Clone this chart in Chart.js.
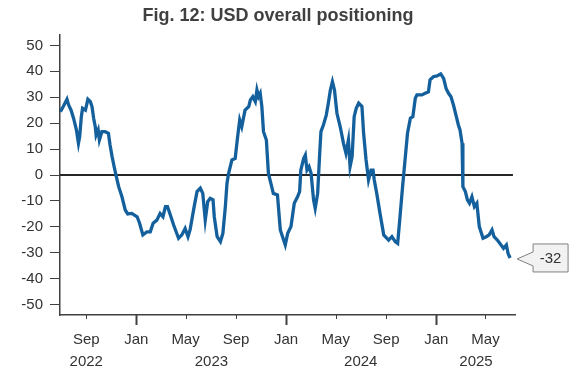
<!DOCTYPE html>
<html>
<head>
<meta charset="utf-8">
<script src="https://cdn.jsdelivr.net/npm/chart.js@4.4.1/dist/chart.umd.min.js"></script>
<style>
  body { margin: 0; background: #fff; }
  #wrap { width: 573px; height: 375px; position: relative; }
</style>
</head>
<body>
<div id="wrap"><canvas id="c" width="573" height="375"></canvas></div>
<script>
// USD overall positioning - line, dates are approximate
const dates = [
  '2022-06-30','2022-07-07','2022-07-16','2022-07-20','2022-07-26','2022-08-01','2022-08-08','2022-08-13',
  '2022-08-16','2022-08-20','2022-08-23','2022-08-30','2022-09-05','2022-09-11','2022-09-15','2022-09-19',
  '2022-09-23','2022-09-25','2022-09-30','2022-10-03','2022-10-09','2022-10-17','2022-10-25','2022-10-29',
  '2022-11-03','2022-11-08','2022-11-13','2022-11-19','2022-11-27','2022-12-05','2022-12-11','2022-12-21',
  '2023-01-03','2023-01-09','2023-01-17','2023-01-27','2023-02-04','2023-02-11','2023-02-20','2023-02-28',
  '2023-03-07','2023-03-13','2023-03-18','2023-03-25','2023-04-02','2023-04-14','2023-04-22','2023-04-30',
  '2023-05-07','2023-05-12','2023-05-22','2023-05-29','2023-06-06','2023-06-12','2023-06-18','2023-06-24',
  '2023-06-30','2023-07-07','2023-07-10','2023-07-17','2023-07-25','2023-07-31','2023-08-06','2023-08-10',
  '2023-08-14','2023-08-22','2023-08-30','2023-09-05','2023-09-10','2023-09-15','2023-09-23','2023-10-02',
  '2023-10-06','2023-10-12','2023-10-18','2023-10-22','2023-10-26','2023-10-30','2023-11-03','2023-11-07',
  '2023-11-14','2023-11-19','2023-11-25','2023-12-01','2023-12-11','2023-12-18','2023-12-26','2023-12-30',
  '2024-01-05','2024-01-13','2024-01-21','2024-01-29','2024-02-03','2024-02-06','2024-02-13','2024-02-17',
  '2024-02-21','2024-02-26','2024-03-02','2024-03-08','2024-03-12','2024-03-18','2024-03-23','2024-03-26',
  '2024-04-01','2024-04-08','2024-04-13','2024-04-18','2024-04-23','2024-04-28','2024-05-04','2024-05-12',
  '2024-05-20','2024-05-26','2024-06-01','2024-06-05','2024-06-10','2024-06-15','2024-06-20','2024-06-26',
  '2024-07-04','2024-07-08','2024-07-14','2024-07-20','2024-07-26','2024-07-31','2024-08-03','2024-08-09',
  '2024-08-17','2024-08-26','2024-09-07','2024-09-15','2024-09-23','2024-09-29','2024-10-04','2024-10-11',
  '2024-10-17','2024-10-23','2024-10-30','2024-11-05','2024-11-11','2024-11-15','2024-11-27','2024-12-05',
  '2024-12-13','2024-12-17','2024-12-25','2025-01-03','2025-01-12','2025-01-19','2025-01-25','2025-01-31',
  '2025-02-06','2025-02-12','2025-02-19','2025-02-24','2025-02-28','2025-03-05','2025-03-07','2025-03-13',
  '2025-03-18','2025-03-23','2025-03-29','2025-04-04','2025-04-10','2025-04-16','2025-04-25','2025-05-03',
  '2025-05-10','2025-05-17','2025-05-22','2025-05-30','2025-06-08','2025-06-14','2025-06-21','2025-06-25',
  '2025-06-30'
];
const values = [
  24.4, 26.4, 29.2, 27.0, 25.0, 21.9, 17.4, 12.2,
  14.8, 22.5, 25.7, 25.0, 29.2, 28.3, 26.4, 21.9,
  18.6, 15.4, 17.4, 13.5, 16.7, 16.7, 16.1, 11.6,
  7.1, 3.2, -0.4, -4.5, -8.4, -13.5, -15.0, -14.8,
  -16.1, -18.6, -23.1, -21.9, -21.9, -18.6, -17.4, -14.8,
  -16.1, -12.2, -12.2, -15.4, -19.3, -24.4, -23.1, -20.6,
  -23.8, -21.2, -12.2, -6.4, -5.1, -7.1, -17.4, -10.3,
  -9.0, -9.6, -16.1, -23.8, -25.7, -22.5, -12.2, -3.2,
  0.6, 5.8, 6.4, 14.8, 21.2, 18.6, 25.0, 26.4,
  28.9, 30.2, 28.3, 32.8, 30.2, 31.5, 26.4, 16.7,
  13.5, 0.6, -3.2, -7.1, -7.7, -21.2, -25.1, -27.0,
  -22.5, -19.9, -10.9, -8.4, -6.4, 1.9, 6.4, 7.7,
  1.9, 3.2, 0.6, -9.6, -12.9, -7.1, 8.4, 16.7,
  19.3, 23.1, 27.7, 32.8, 36.0, 32.8, 23.8, 18.6,
  12.2, 8.4, 13.5, 3.2, 7.1, 22.5, 25.7, 27.7,
  26.4, 16.1, 5.8, -1.9, 1.9, 1.9, -1.9, -7.1,
  -14.8, -23.1, -25.1, -23.8, -25.7, -26.4, -17.4, -4.5,
  5.8, 16.1, 21.9, 22.5, 29.6, 30.9, 30.9, 31.5,
  32.1, 36.7, 37.9, 38.2, 39.0, 37.3, 33.4, 31.5,
  30.2, 27.0, 22.5, 19.3, 17.4, 12.2, -4.5, -6.4,
  -9.6, -10.9, -8.4, -12.2, -10.9, -19.9, -24.4, -23.8,
  -23.1, -21.2, -23.8, -25.1, -27.0, -28.3, -27.0, -30.2,
  -32.0
];

const tickDates = ['2022-09-01','2023-01-01','2023-05-01','2023-09-01','2024-01-01','2024-05-01','2024-09-01','2025-01-01','2025-05-01'];
const tickMonths = ['Sep','Jan','May','Sep','Jan','May','Sep','Jan','May'];
const yearLabels = ['2022','2023','2024','2025'];
const yearDates = ['2022-09-01','2023-07-03','2024-07-01','2025-04-08'];
const yTicks = [-50,-40,-30,-20,-10,0,10,20,30,40,50];
const lastLabel = '-32';

const toDay = s => Date.parse(s + 'T00:00:00Z') / 86400000;
const FONT = '"Liberation Sans", Arial, sans-serif';
const LINE = '#14609d';
const INK = '#333333';

const decor = {
  id: 'decor',
  beforeDatasetsDraw(chart) {
    const { ctx, chartArea: a, scales: { x, y } } = chart;
    const y0 = y.getPixelForValue(0);
    ctx.save();
    ctx.strokeStyle = '#262626';
    ctx.lineWidth = 2;
    ctx.beginPath();
    ctx.moveTo(a.left, y0);
    ctx.lineTo(x.getPixelForValue(toDay('2025-07-07')), y0);
    ctx.stroke();
    ctx.restore();
  },
  afterDraw(chart) {
    const { ctx, chartArea: a, scales: { x, y } } = chart;
    ctx.save();
    // title
    ctx.fillStyle = '#404040';
    ctx.font = 'bold 18px ' + FONT;
    ctx.textAlign = 'center';
    ctx.textBaseline = 'alphabetic';
    ctx.fillText('Fig. 12: USD overall positioning', 278, 21);

    // x tick marks, Jan ones longer
    ctx.strokeStyle = '#404040';
    tickDates.forEach((d, i) => {
      const px = Math.round(x.getPixelForValue(toDay(d))) + 0.5;
      const major = tickMonths[i] === 'Jan';
      ctx.lineWidth = major ? 2 : 1;
      ctx.beginPath();
      ctx.moveTo(px, a.bottom);
      ctx.lineTo(px, a.bottom + (major ? 10 : 4));
      ctx.stroke();
    });

    // year labels
    ctx.fillStyle = INK;
    ctx.font = '15px ' + FONT;
    ctx.textBaseline = 'middle';
    yearLabels.forEach((t, i) => ctx.fillText(t, x.getPixelForValue(toDay(yearDates[i])), 362));

    // callout for last value
    const n = values.length - 1;
    const px = x.getPixelForValue(toDay(dates[n]));
    const py = y.getPixelForValue(values[n]);
    const bx = px + 23, bw = 35, bh = 28, top = py - 14;
    ctx.beginPath();
    ctx.moveTo(px + 7, py + 1);
    ctx.lineTo(bx, py - 6);
    ctx.lineTo(bx, top);
    ctx.lineTo(bx + bw, top);
    ctx.lineTo(bx + bw, top + bh);
    ctx.lineTo(bx, top + bh);
    ctx.lineTo(bx, py + 8);
    ctx.closePath();
    ctx.fillStyle = '#f2f2f2';
    ctx.fill();
    ctx.strokeStyle = '#808080';
    ctx.lineWidth = 1;
    ctx.stroke();
    ctx.fillStyle = INK;
    ctx.textAlign = 'center';
    ctx.fillText(lastLabel, bx + bw / 2, py + 1);
    ctx.restore();
  }
};

new Chart(document.getElementById('c'), {
  type: 'line',
  data: {
    datasets: [{
      data: dates.map((d, i) => ({ x: toDay(d), y: values[i] })),
      borderColor: LINE,
      borderWidth: 3.3,
      pointRadius: 0,
      tension: 0,
      fill: false
    }]
  },
  options: {
    responsive: false,
    animation: false,
    layout: { padding: { top: 35, right: 58, left: 0, bottom: 0 } },
    plugins: { legend: { display: false }, tooltip: { enabled: false } },
    scales: {
      x: {
        type: 'linear',
        min: toDay('2022-06-29'),
        max: toDay('2025-07-12'),
        afterBuildTicks: s => { s.ticks = tickDates.map(d => ({ value: toDay(d) })); },
        afterFit: s => { s.height = 60; },
        grid: { display: false, drawTicks: false },
        border: { display: true, color: '#404040', width: 1.5 },
        ticks: {
          autoSkip: false, maxRotation: 0, padding: 16,
          color: INK, font: { family: FONT, size: 15 },
          callback: (v, i) => tickMonths[i]
        }
      },
      y: {
        min: -54,
        max: 54,
        afterBuildTicks: s => { s.ticks = yTicks.map(v => ({ value: v })); },
        afterFit: s => { s.width = 60; },
        grid: { display: true, drawOnChartArea: false, drawTicks: true, tickLength: 10, color: '#404040' },
        border: { display: true, color: '#404040', width: 1.5 },
        ticks: { padding: 7, color: INK, font: { family: FONT, size: 15 } }
      }
    }
  },
  plugins: [decor]
});
</script>
</body>
</html>
